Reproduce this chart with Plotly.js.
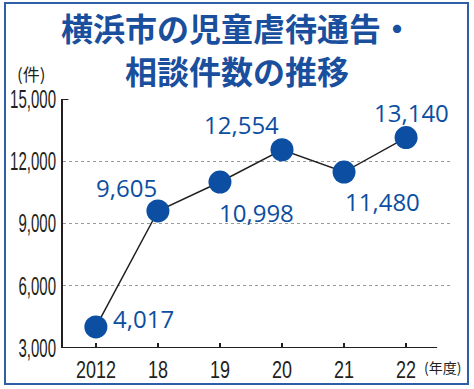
<!DOCTYPE html>
<html><head><meta charset="utf-8">
<script src="https://cdn.plot.ly/plotly-3.0.1.min.js"></script>
<style>html,body{margin:0;padding:0;background:#fff;}</style>
</head><body>
<div id="chart" style="width:474px;height:389px;"></div>
<script>
var years = ['2012', '18', '19', '20', '21', '22'];
var counts = [4017, 9605, 10998, 12554, 11480, 13140];
var yTicks = [3000, 6000, 9000, 12000, 15000];
var gridTicks = [6000, 9000, 12000];
var titleLines = ['横浜市の児童虐待通告・', '相談件数の推移'];
var labelShiftX = [48, -31, 37, -41, 38, 5];
var labelShiftY = [8, 23, -30, 25, -29, 25];

var blue = '#0b4ea2';
var ink = '#231f20';

var trace = {
  x: years, y: counts, type: 'scatter', mode: 'lines+markers',
  line: {color: ink, width: 1.5},
  marker: {size: 23, color: blue},
  hoverinfo: 'skip', showlegend: false
};
var gridTrace = {x: years, y: counts, yaxis: 'y2', mode: 'none', type: 'scatter', showlegend: false, hoverinfo: 'skip'};

var anns = years.map(function(c, i){
  return {x: i, y: counts[i], xref: 'x', yref: 'y', showarrow: false,
    xanchor: 'center', yanchor: 'middle',
    text: counts[i].toLocaleString('en-US'), xshift: labelShiftX[i], yshift: labelShiftY[i],
    font: {family: 'Open Sans, Liberation Sans, sans-serif', size: 24, color: blue}};
});
anns.push({xref: 'paper', yref: 'paper', x: 0.447, y: 1.289, xanchor: 'center', yanchor: 'middle', showarrow: false,
  text: '<b>' + titleLines[0] + '</b>', font: {family: 'Noto Sans CJK JP, sans-serif', weight: 900, size: 32, color: '#1a4f9e'}});
anns.push({xref: 'paper', yref: 'paper', x: 0.447, y: 1.116, xanchor: 'center', yanchor: 'middle', showarrow: false,
  text: '<b>' + titleLines[1] + '</b>', font: {family: 'Noto Sans CJK JP, sans-serif', weight: 900, size: 32, color: '#1a4f9e'}});
anns.push({xref: 'paper', yref: 'paper', x: -0.08, y: 1.104, xanchor: 'center', yanchor: 'middle', showarrow: false, text: '(件)',
  font: {family: 'Noto Sans CJK JP, sans-serif', size: 17, color: ink}});
anns.push({xref: 'paper', yref: 'paper', x: 0.976, y: -0.078, xanchor: 'center', yanchor: 'middle', showarrow: false, text: '(年度)',
  font: {family: 'Noto Sans CJK JP, sans-serif', size: 14, color: ink}});

var layout = {
  width: 474, height: 389,
  margin: {l: 63, r: 22, t: 99, b: 41},
  paper_bgcolor: '#fff', plot_bgcolor: '#fff',
  xaxis: {type: 'category', range: [-0.53, 5.74], showline: false, showgrid: false, zeroline: false,
    ticks: 'inside', ticklen: 5, tickwidth: 1.5, tickcolor: ink, ticklabelstandoff: 5,
    tickfont: {family: 'Liberation Sans, Arial, sans-serif', size: 24, color: ink}},
  yaxis: {range: [3000, 15000], tickvals: yTicks, ticktext: yTicks.map(function(v){return v.toLocaleString('en-US');}),
    showline: true, linecolor: ink, linewidth: 2, showgrid: false, zeroline: false, ticks: '', ticklabelstandoff: 0,
    tickfont: {family: 'Liberation Sans, Arial, sans-serif', size: 25, color: ink}},
  yaxis2: {range: [3000, 15000], overlaying: 'y', tickvals: gridTicks, showticklabels: false, showgrid: true,
    gridcolor: '#9a9a9a', griddash: 'dot', gridwidth: 1, zeroline: false, showline: false},
  shapes: [
    {type: 'line', xref: 'x', yref: 'y', x0: -0.53, x1: 5.5, y0: 3000, y1: 3000, line: {color: ink, width: 2}},
    {type: 'line', xref: 'paper', yref: 'y', x0: 0, x1: 0.014, y0: 15000, y1: 15000, line: {color: ink, width: 2}},
    {type: 'rect', xref: 'paper', yref: 'paper', x0: -0.1491, x1: 1.0411, y0: -0.1446, y1: 1.3855,
      line: {color: '#2e5ea8', width: 2}, fillcolor: 'rgba(0,0,0,0)'}
  ],
  annotations: anns
};

function condense(sel, f) {
  document.querySelectorAll(sel).forEach(function(t){
    var w = t.getComputedTextLength();
    if (w > 0) {
      t.setAttribute('textLength', (w * f).toFixed(1));
      t.setAttribute('lengthAdjust', 'spacingAndGlyphs');
    }
  });
}
Plotly.newPlot('chart', [gridTrace, trace], layout, {staticPlot: true}).then(function(){
  condense('#chart .xtick text', 0.75);
  condense('#chart .ytick text', 0.6);
});
</script>
</body></html>
